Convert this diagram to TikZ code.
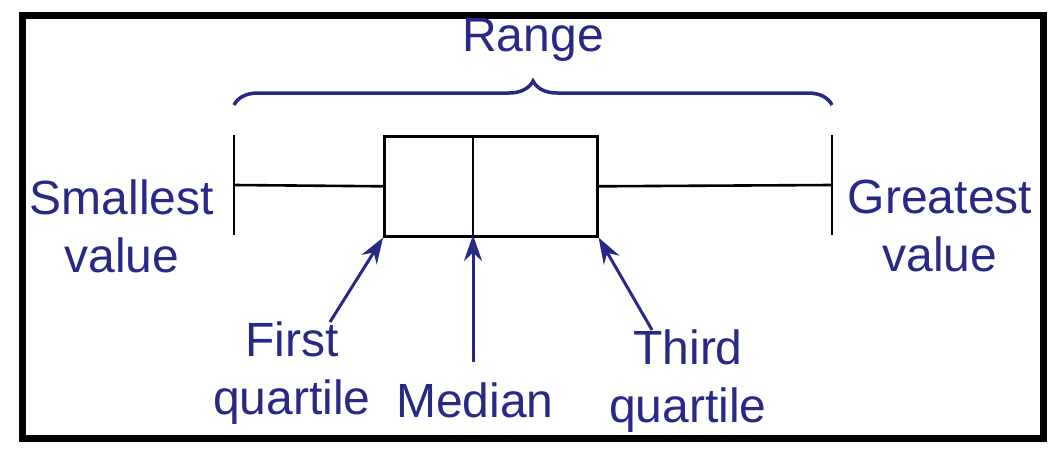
\documentclass[tikz,border=0pt]{standalone}
\usepackage{fontspec}
\setmainfont{Liberation Sans}
\usetikzlibrary{decorations.pathreplacing,arrows.meta}
\definecolor{lblue}{RGB}{40,40,135}
\tikzset{
  lbl/.style={text=lblue,font=\fontsize{48}{58}\selectfont,align=center,inner sep=0pt},
  plot/.style={line width=2.6pt,black},
  ptr/.style={line width=3pt,lblue,-{Stealth[length=26pt,width=18pt]}}
}
\begin{document}
\begin{tikzpicture}[x=1pt,y=-1pt]
\useasboundingbox (0,0) rectangle (1060,452);
\draw[line width=7pt] (22,16) rectangle (1043,438);
% box plot
\coordinate (lw) at (234,185);
\coordinate (rw) at (832,185);
\node[plot,draw,minimum width=213pt,minimum height=100pt,inner sep=0pt,anchor=north west] (box) at (383,135) {};
\coordinate (med) at (473,235);
\draw[plot] (473,135) -- (med);
\draw[plot] (234,135) -- (234,235);
\draw[plot] (832,135) -- (832,235);
\draw[plot] (lw) -- (box.west);
\draw[plot] (box.east) -- (rw);
% brace
\draw[lblue,line width=3.5pt,decorate,decoration={brace,amplitude=24pt,aspect=0.5}] (234,105) -- (832,105);
\node[lbl] (range) at (533,40) {Range};
% labels
\node[lbl] (small) at (122,226) {Smallest\\value};
\node[lbl] (great) at (940,226) {Greatest\\value};
\node[lbl] (fq) at (292,373) {First\\quartile};
\node[lbl] (md) at (475,400) {Median};
\node[lbl] (tq) at (688,381) {Third\\quartile};
\coordinate (fqs) at (330,322);
\coordinate (mds) at (473,362);
\coordinate (tqs) at (652,330);
\draw[ptr] (fqs) -- (box.south west);
\draw[ptr] (mds) -- (med);
\draw[ptr] (tqs) -- (box.south east);
\end{tikzpicture}
\end{document}
